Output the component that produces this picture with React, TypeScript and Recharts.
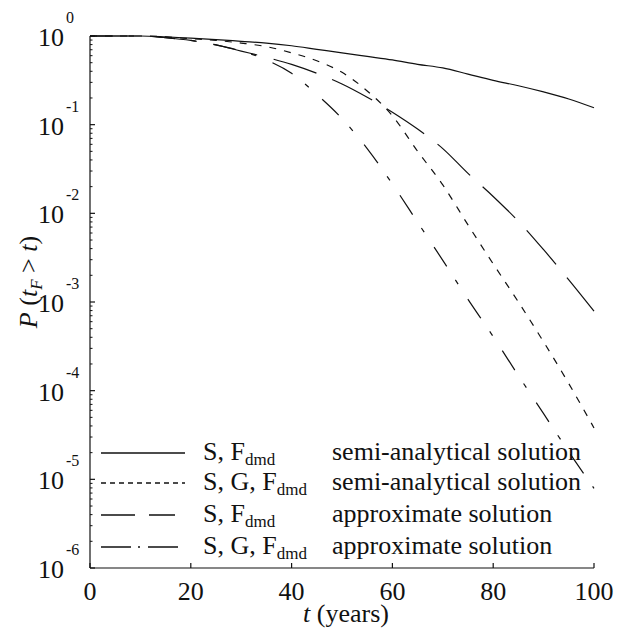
import React from 'react';
import { LineChart, Line, XAxis, YAxis, Label } from 'recharts';

// time axis (years) and survival probabilities
const YEARS = [0, 5, 10, 15, 20, 25, 30, 35, 40, 45, 50, 55, 60, 65, 70, 75, 80, 85, 90, 95, 100];
const P_S_SEMI = [1, 1, 1, 0.977, 0.944, 0.912, 0.871, 0.832, 0.776, 0.708, 0.646, 0.589, 0.537, 0.479, 0.437, 0.372, 0.316, 0.275, 0.234, 0.195, 0.155];
const P_SG_SEMI = [1, 1, 1, 0.977, 0.933, 0.891, 0.832, 0.759, 0.646, 0.525, 0.389, 0.24, 0.126, 0.0501, 0.0209, 0.00741, 0.00269, 0.001, 0.000355, 0.00012, 0.000038];
const P_S_APPROX = [1, 1, 1, 0.955, 0.891, 0.794, 0.676, 0.575, 0.479, 0.38, 0.288, 0.204, 0.138, 0.0891, 0.0537, 0.0282, 0.0155, 0.00813, 0.00389, 0.00178, 0.00079];
const P_SG_APPROX = [1, 1, 1, 0.955, 0.891, 0.794, 0.676, 0.537, 0.38, 0.219, 0.117, 0.0537, 0.0214, 0.00794, 0.00295, 0.00107, 0.000407, 0.000148, 0.000055, 0.0000204, 0.0000079];

const X_TICKS = [0, 20, 40, 60, 80, 100];
const DECADES = [1e-6, 1e-5, 1e-4, 1e-3, 1e-2, 1e-1, 1];
const DECADE_EXPONENTS = ['-6', '-5', '-4', '-3', '-2', '-1', '0'];
const MINOR_STEPS = [2, 3, 4, 5, 6, 7, 8, 9];

const SERIES_KEYS = ['sSemi', 'sgSemi', 'sApprox', 'sgApprox'];
const SERIES_MODEL = ['S, F', 'S, G, F', 'S, F', 'S, G, F'];
const SERIES_METHOD = [
  'semi-analytical solution',
  'semi-analytical solution',
  'approximate solution',
  'approximate solution',
];

const FONT = '"Liberation Serif", "Times New Roman", serif';
const INK = '#111';
const TXT = { fontFamily: FONT };

const data = YEARS.map((t, i) => ({
  t,
  sSemi: P_S_SEMI[i],
  sgSemi: P_SG_SEMI[i],
  sApprox: P_S_APPROX[i],
  sgApprox: P_SG_APPROX[i],
}));

// major + minor tick positions for the log axis
const yTicks: number[] = [];
DECADES.forEach((d, i) => {
  yTicks.push(d);
  if (i < DECADES.length - 1) MINOR_STEPS.forEach((m) => yTicks.push(d * m));
});

// plot dash styles and matching legend samples
const PLOT_DASH = [undefined, '7 8', '45 17', '23 16 5 18'];
const LEGEND_DASH = [undefined, '5 4', '34 14', '30 7 2 8'];
const LEGEND_ROWS_Y = [453, 483, 515, 547];

const YTick = (props: any) => {
  const { x, y, payload } = props;
  const idx = DECADES.indexOf(payload.value);
  if (idx < 0) {
    return <line x1={x} x2={x + 2.5} y1={y} y2={y} stroke={INK} strokeWidth={1} />;
  }
  return (
    <g>
      <line x1={x} x2={x + 5} y1={y} y2={y} stroke={INK} strokeWidth={1.2} />
      <text x={x - 26} y={y + 10} textAnchor="end" fontSize={26} style={TXT} fill={INK}>
        10
      </text>
      <text x={x - 24} y={y - 13} fontSize={16} style={TXT} fill={INK}>
        {DECADE_EXPONENTS[idx]}
      </text>
    </g>
  );
};

const XTick = (props: any) => {
  const { x, y, payload } = props;
  return (
    <g>
      <line x1={x} x2={x} y1={y} y2={y - 5} stroke={INK} strokeWidth={1.2} />
      <text x={x} y={y + 32} textAnchor="middle" fontSize={26} style={TXT} fill={INK}>
        {payload.value}
      </text>
    </g>
  );
};

const YTitle = (props: any) => {
  const { viewBox } = props;
  const cx = viewBox.x + 37;
  const cy = viewBox.y + viewBox.height / 2 - 20;
  return (
    <text
      x={cx}
      y={cy}
      transform={`rotate(-90, ${cx}, ${cy})`}
      textAnchor="middle"
      fontSize={26}
      style={TXT}
      fill={INK}
    >
      <tspan fontStyle="italic">P</tspan>
      <tspan> (</tspan>
      <tspan fontStyle="italic">t</tspan>
      <tspan fontStyle="italic" fontSize={17} dy={5}>F</tspan>
      <tspan dy={-5}> &gt; </tspan>
      <tspan fontStyle="italic">t</tspan>
      <tspan>)</tspan>
    </text>
  );
};

const XTitle = (props: any) => {
  const { viewBox } = props;
  const cx = viewBox.x + viewBox.width / 2 + 4;
  return (
    <text x={cx} y={viewBox.y + 54} textAnchor="middle" fontSize={26} style={TXT} fill={INK}>
      <tspan fontStyle="italic">t</tspan>
      <tspan> (years)</tspan>
    </text>
  );
};

function LegendBox() {
  return (
    <svg width={620} height={635} style={{ position: 'absolute', left: 0, top: 0, pointerEvents: 'none' }}>
      {SERIES_KEYS.map((k, i) => {
        const y = LEGEND_ROWS_Y[i];
        const len = i === 2 ? 74 : i === 3 ? 78 : 84;
        return (
          <g key={k}>
            <line x1={101} x2={101 + len} y1={y} y2={y} stroke={INK} strokeWidth={1.3} strokeDasharray={LEGEND_DASH[i]} />
            <text x={203} y={y + 7} fontSize={26} style={TXT} fill={INK}>
              {SERIES_MODEL[i]}
              <tspan fontSize={17} dy={5}>dmd</tspan>
            </text>
            <text x={332} y={y + 7} fontSize={26} style={TXT} fill={INK}>
              {SERIES_METHOD[i]}
            </text>
          </g>
        );
      })}
    </svg>
  );
}

export default function App() {
  return (
    <div style={{ position: 'absolute', left: 0, top: 0, width: 620, height: 635, background: '#fff', fontFamily: FONT }}>
      <LineChart width={620} height={635} data={data} margin={{ top: 36, right: 26, left: 0, bottom: 0 }}>
        <XAxis
          dataKey="t"
          type="number"
          domain={[0, 100]}
          ticks={X_TICKS}
          interval={0}
          height={67}
          tickSize={0}
          tickMargin={0}
          tickLine={false}
          axisLine={{ stroke: INK, strokeWidth: 1.2 }}
          tick={<XTick />}
        >
          <Label content={<XTitle />} />
        </XAxis>
        <YAxis
          scale="log"
          type="number"
          domain={[1e-6, 1]}
          ticks={yTicks}
          interval={0}
          width={90}
          tickSize={0}
          tickMargin={0}
          tickLine={false}
          axisLine={{ stroke: INK, strokeWidth: 1.2 }}
          tick={<YTick />}
        >
          <Label content={<YTitle />} />
        </YAxis>
        {SERIES_KEYS.map((k, i) => (
          <Line
            key={k}
            dataKey={k}
            type="monotone"
            stroke={INK}
            strokeWidth={1.2}
            strokeDasharray={PLOT_DASH[i]}
            dot={false}
            activeDot={false}
            isAnimationActive={false}
          />
        ))}
      </LineChart>
      <LegendBox />
    </div>
  );
}
